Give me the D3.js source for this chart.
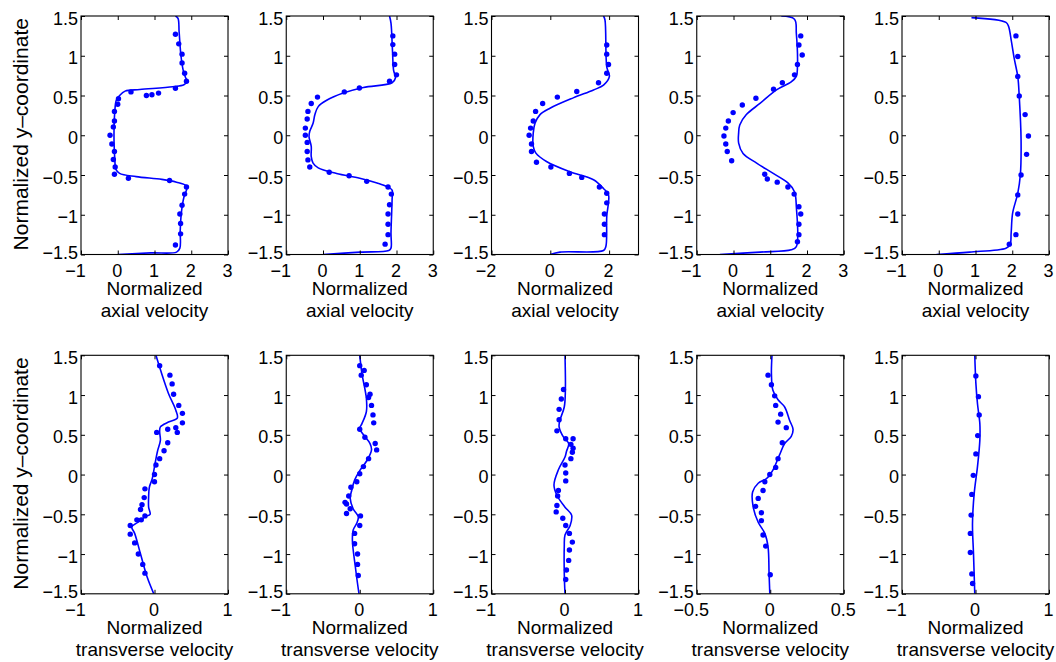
<!DOCTYPE html>
<html>
<head>
<meta charset="utf-8">
<script src="https://cdn.jsdelivr.net/npm/d3@7/dist/d3.min.js"></script>
<style>
  html, body { margin: 0; padding: 0; background: #fff; }
  svg { display: block; }
  text { font-family: "Liberation Sans", Arial, Helvetica, sans-serif; fill: #000; }
</style>
</head>
<body>
<svg id="chart" width="1056" height="662"></svg>
<script>
// Normalized y-coordinate ticks shared by all panels
const yTicks = [-1.5, -1, -0.5, 0, 0.5, 1, 1.5];

// x ranges and ticks for each column (top row: axial, bottom row: transverse)
const axialXDomains = [[-1, 3], [-1, 3], [-2, 3], [-1, 3], [-1, 3]];
const axialXTicks = [[-1, 0, 1, 2, 3], [-1, 0, 1, 2, 3], [-2, 0, 2], [-1, 0, 1, 2, 3], [-1, 0, 1, 2, 3]];
const transXDomains = [[-1, 1], [-1, 1], [-1, 1], [-0.5, 0.5], [-1, 1]];
const transXTicks = [[-1, 0, 1], [-1, 0, 1], [-1, 0, 1], [-0.5, 0, 0.5], [-1, 0, 1]];

const xLabelLines = {
  axial: ["Normalized", "axial velocity"],
  trans: ["Normalized", "transverse velocity"]
};
const yLabel = "Normalized y\u2013coordinate";

// ---- Axial velocity: simulation profiles [velocity, y] ----
const axialLine1 = [[1.57,1.5],[1.64,1.47],[1.67,1.3],[1.72,1.0],[1.78,0.82],[1.85,0.72],[1.9,0.68],[1.8,0.635],[1.5,0.61],[0.6,0.575],[0.2,0.555],[0.05,0.5],[-0.04,0.44],[-0.08,0.3],[-0.1,0.1],[-0.1,-0.1],[-0.08,-0.3],[-0.05,-0.43],[0.05,-0.48],[0.5,-0.52],[1.2,-0.555],[1.6,-0.59],[1.85,-0.63],[1.88,-0.67],[1.8,-0.78],[1.73,-0.98],[1.7,-1.2],[1.69,-1.42],[1.6,-1.47],[0.9,-1.48],[0.0,-1.5]];
const axialLine2 = [[1.81,1.5],[1.85,1.41],[1.89,1.07],[1.92,0.82],[1.97,0.72],[1.88,0.66],[1.10,0.60],[0.55,0.53],[0.1,0.44],[-0.13,0.36],[-0.22,0.26],[-0.27,0.15],[-0.36,0.05],[-0.38,-0.02],[-0.32,-0.14],[-0.32,-0.27],[-0.27,-0.35],[-0.13,-0.41],[0.37,-0.48],[1.0,-0.54],[1.47,-0.60],[1.74,-0.645],[1.88,-0.69],[1.88,-0.81],[1.85,-1.23],[1.85,-1.42],[1.79,-1.45],[1.01,-1.47],[0.0,-1.5]];
const axialLine3 = [[1.81,1.5],[1.86,1.45],[1.92,0.86],[2.01,0.74],[1.81,0.63],[1.47,0.57],[0.78,0.47],[-0.01,0.34],[-0.35,0.26],[-0.52,0.15],[-0.58,0.03],[-0.58,-0.14],[-0.49,-0.225],[-0.13,-0.33],[0.67,-0.46],[1.47,-0.56],[1.81,-0.67],[1.98,-0.75],[1.92,-1.02],[1.89,-1.40],[1.81,-1.45],[0.33,-1.47],[0.0,-1.5]];
const axialLine4 = [[1.30,1.5],[1.66,1.46],[1.71,1.28],[1.74,0.86],[1.71,0.74],[1.57,0.67],[1.17,0.57],[0.72,0.40],[0.35,0.26],[0.17,0.13],[0.14,0.03],[0.14,-0.10],[0.26,-0.23],[0.63,-0.35],[1.08,-0.48],[1.48,-0.60],[1.66,-0.71],[1.71,-0.90],[1.71,-1.40],[1.57,-1.44],[0.72,-1.47],[-0.37,-1.5]];
const axialLine5 = [[0.89,1.48],[1.83,1.42],[1.90,1.37],[1.97,1.2],[2.06,0.95],[2.15,0.74],[2.19,0.49],[2.24,-0.06],[2.22,-0.50],[2.15,-0.73],[2.01,-0.98],[1.97,-1.23],[1.94,-1.38],[1.83,-1.42],[0.84,-1.47],[-0.06,-1.5]];

// ---- Axial velocity: measured points [velocity, y] ----
const axialDots1 = [[1.57,1.27],[1.66,1.15],[1.75,1.02],[1.75,0.91],[1.82,0.78],[1.87,0.68],[1.57,0.59],[1.11,0.53],[0.93,0.51],[0.78,0.50],[0.36,0.545],[0.02,0.46],[0.0,0.39],[-0.09,0.30],[-0.09,0.18],[-0.12,0.105],[-0.21,0.0],[-0.16,-0.11],[-0.09,-0.205],[-0.12,-0.305],[-0.07,-0.40],[-0.09,-0.49],[0.29,-0.54],[1.41,-0.57],[1.87,-0.65],[1.82,-0.74],[1.75,-0.88],[1.69,-0.99],[1.71,-1.11],[1.71,-1.24],[1.57,-1.38]];
const axialDots2 = [[1.90,1.25],[1.90,1.14],[1.95,1.02],[1.95,0.89],[2.0,0.76],[1.81,0.68],[0.99,0.595],[0.58,0.545],[-0.15,0.48],[-0.32,0.40],[-0.41,0.30],[-0.43,0.205],[-0.48,0.09],[-0.48,0.0],[-0.43,-0.09],[-0.43,-0.205],[-0.41,-0.31],[-0.36,-0.40],[0.17,-0.465],[0.71,-0.51],[1.19,-0.58],[1.77,-0.65],[1.86,-0.74],[1.81,-0.875],[1.77,-0.99],[1.77,-1.12],[1.77,-1.25],[1.69,-1.37]];
const axialDots3 = [[1.92,1.135],[1.92,1.02],[1.98,0.89],[1.92,0.78],[1.64,0.66],[0.90,0.55],[0.24,0.48],[-0.26,0.40],[-0.50,0.30],[-0.58,0.18],[-0.67,0.09],[-0.72,0.0],[-0.64,-0.11],[-0.64,-0.205],[-0.47,-0.34],[0.02,-0.40],[0.65,-0.48],[1.07,-0.53],[1.67,-0.65],[1.92,-0.73],[1.92,-0.85],[1.84,-0.99],[1.84,-1.12],[1.84,-1.25]];
const axialDots4 = [[1.83,1.25],[1.78,1.135],[1.87,1.01],[1.74,0.89],[1.66,0.76],[1.33,0.66],[1.09,0.58],[0.61,0.465],[0.24,0.38],[-0.01,0.285],[-0.14,0.18],[-0.21,0.09],[-0.26,-0.01],[-0.21,-0.11],[-0.17,-0.205],[-0.05,-0.32],[0.85,-0.49],[0.92,-0.55],[1.19,-0.59],[1.48,-0.65],[1.65,-0.74],[1.78,-0.90],[1.83,-0.99],[1.78,-1.12],[1.78,-1.25],[1.74,-1.34]];
const axialDots5 = [[2.10,1.25],[2.15,0.99],[2.15,0.74],[2.19,0.495],[2.35,0.26],[2.44,-0.01],[2.39,-0.24],[2.24,-0.50],[2.15,-0.75],[2.15,-0.99],[2.10,-1.25],[1.92,-1.37]];

// ---- Transverse velocity: simulation profiles [velocity, y] ----
const transLine1 = [[0.02,1.5],[0.08,1.32],[0.19,1.02],[0.29,0.81],[0.31,0.71],[0.19,0.66],[0.08,0.60],[0.07,0.54],[0.08,0.43],[0.04,0.29],[0.0,0.10],[-0.03,-0.05],[-0.07,-0.16],[-0.08,-0.28],[-0.08,-0.41],[-0.06,-0.50],[-0.13,-0.53],[-0.19,-0.58],[-0.26,-0.62],[-0.31,-0.66],[-0.27,-0.74],[-0.19,-1.0],[-0.10,-1.29],[-0.01,-1.5]];
const transLine2 = [[0.0,1.5],[0.03,1.27],[0.09,0.96],[0.09,0.79],[0.03,0.64],[0.0,0.58],[0.05,0.50],[0.14,0.39],[0.16,0.31],[0.10,0.18],[0.0,0.05],[-0.07,-0.07],[-0.11,-0.20],[-0.13,-0.30],[-0.09,-0.43],[-0.02,-0.53],[-0.04,-0.61],[-0.09,-0.70],[-0.10,-0.83],[-0.06,-1.16],[-0.01,-1.5]];
const transLine3 = [[0.0,1.5],[0.005,1.06],[-0.01,0.85],[-0.07,0.68],[-0.08,0.60],[-0.02,0.47],[0.05,0.39],[0.02,0.29],[0.0,0.22],[-0.09,0.06],[-0.15,-0.13],[-0.11,-0.26],[0.0,-0.41],[0.09,-0.51],[0.07,-0.64],[0.0,-0.76],[-0.01,-0.91],[-0.01,-1.24],[0.0,-1.5]];
const transLine4 = [[0.012,1.5],[0.008,1.27],[0.018,1.06],[0.053,0.94],[0.098,0.85],[0.132,0.68],[0.155,0.57],[0.143,0.48],[0.098,0.39],[0.064,0.25],[0.019,0.06],[-0.025,-0.05],[-0.082,-0.11],[-0.12,-0.22],[-0.116,-0.41],[-0.082,-0.60],[-0.037,-0.74],[-0.015,-0.91],[-0.008,-1.25],[-0.003,-1.5]];
const transLine5 = [[-0.01,1.5],[0.005,1.15],[0.027,0.89],[0.059,0.64],[0.059,0.43],[0.027,0.10],[-0.018,-0.24],[-0.041,-0.62],[-0.027,-1.0],[-0.01,-1.5]];

// ---- Transverse velocity: measured points [velocity, y] ----
const transDots1 = [[0.07,1.37],[0.21,1.25],[0.24,1.14],[0.26,1.01],[0.33,0.87],[0.38,0.77],[0.38,0.65],[0.29,0.59],[0.31,0.53],[0.03,0.53],[0.18,0.57],[0.18,0.40],[0.13,0.30],[0.07,0.20],[0.02,0.12],[0.0,0.0],[0.0,-0.09],[-0.13,-0.18],[-0.14,-0.29],[-0.17,-0.38],[-0.19,-0.44],[-0.13,-0.52],[-0.24,-0.57],[-0.18,-0.57],[-0.33,-0.64],[-0.33,-0.75],[-0.27,-0.86],[-0.22,-1.00],[-0.16,-1.13],[-0.13,-1.24]];
const transDots2 = [[0.0,1.37],[0.02,1.25],[0.06,1.31],[0.09,1.13],[0.14,1.01],[0.12,0.97],[0.16,0.87],[0.18,0.75],[0.19,0.65],[0.21,0.39],[0.23,0.31],[0.0,0.57],[0.07,0.47],[0.12,0.20],[0.05,0.10],[0.0,0.01],[-0.04,-0.09],[-0.12,-0.16],[-0.15,-0.27],[-0.20,-0.35],[-0.18,-0.37],[-0.13,-0.43],[-0.18,-0.49],[0.01,-0.52],[0.0,-0.64],[-0.07,-0.74],[-0.07,-0.87],[-0.03,-1.0],[-0.03,-1.13],[-0.02,-1.27]];
const transDots3 = [[-0.02,1.07],[-0.05,0.95],[-0.08,0.82],[-0.08,0.69],[-0.11,0.55],[0.01,0.45],[0.11,0.45],[0.08,0.38],[0.11,0.33],[0.10,0.28],[0.08,0.20],[0.0,0.12],[0.01,0.02],[0.01,-0.08],[-0.09,-0.20],[-0.10,-0.27],[-0.11,-0.39],[-0.12,-0.47],[-0.03,-0.55],[0.01,-0.64],[0.06,-0.74],[0.10,-0.85],[0.06,-0.95],[0.05,-1.08],[0.02,-1.2],[0.01,-1.32]];
const transDots4 = [[-0.015,1.25],[0.008,1.13],[0.03,0.99],[0.037,0.87],[0.071,0.76],[0.053,0.66],[0.109,0.59],[0.082,0.40],[0.053,0.20],[0.037,0.09],[-0.003,0.0],[-0.037,-0.09],[-0.049,-0.20],[-0.082,-0.30],[-0.100,-0.40],[-0.060,-0.48],[-0.060,-0.58],[-0.049,-0.76],[-0.031,-0.90],[0.0,-1.26]];
const transDots5 = [[0.005,1.24],[0.04,0.98],[0.05,0.75],[0.03,0.49],[0.005,0.26],[-0.03,-0.01],[-0.05,-0.25],[-0.06,-0.51],[-0.07,-0.74],[-0.07,-0.98],[-0.05,-1.25],[-0.04,-1.37]];

const axialLines = [axialLine1, axialLine2, axialLine3, axialLine4, axialLine5];
const axialDots = [axialDots1, axialDots2, axialDots3, axialDots4, axialDots5];
const transLines = [transLine1, transLine2, transLine3, transLine4, transLine5];
const transDots = [transDots1, transDots2, transDots3, transDots4, transDots5];

// ---- Layout ----
const colLeft0 = 81, colStep = 205.25, panelW = 147;
const rowTop = [16, 355.3], panelH = 238.5;
const BLUE = "#0000ff";
const tickLen = 4;
const fmt = d3.format("~g");

const svg = d3.select("#chart");

function drawPanel(g, xDomain, xTicks, lineData, dotData, labelLines) {
  const x = d3.scaleLinear().domain(xDomain).range([0, panelW]);
  const y = d3.scaleLinear().domain([-1.5, 1.5]).range([panelH, 0]);

  const clipId = "clip" + Math.random().toString(36).slice(2);
  g.append("clipPath").attr("id", clipId)
    .append("rect").attr("width", panelW).attr("height", panelH);

  const plot = g.append("g").attr("clip-path", `url(#${clipId})`);

  const line = d3.line()
    .x(d => x(d[0])).y(d => y(d[1]))
    .curve(d3.curveCatmullRom.alpha(0.5));

  plot.append("path")
    .datum(lineData)
    .attr("d", line)
    .attr("fill", "none")
    .attr("stroke", BLUE)
    .attr("stroke-width", 1.6)
    .attr("stroke-linejoin", "round");

  plot.selectAll("circle")
    .data(dotData)
    .join("circle")
    .attr("cx", d => x(d[0]))
    .attr("cy", d => y(d[1]))
    .attr("r", 2.7)
    .attr("fill", BLUE);

  // bottom axis with inward ticks and labels
  const bottom = g.append("g").attr("transform", `translate(0,${panelH})`)
    .call(d3.axisBottom(x).tickValues(xTicks).tickSizeInner(-tickLen).tickSizeOuter(0).tickFormat(fmt));
  bottom.selectAll("text")
    .attr("y", 22).attr("dy", 0)
    .attr("dx", d => d < 0 ? -6 : -1)
    .style("font-size", "18px");

  // top axis: mirrored ticks only
  g.append("g")
    .call(d3.axisTop(x).tickValues(xTicks).tickSizeInner(-tickLen).tickSizeOuter(0).tickFormat(""));

  // left axis with inward ticks and labels; the lowest label sits a little higher
  const left = g.append("g")
    .call(d3.axisLeft(y).tickValues(yTicks).tickSizeInner(-tickLen).tickSizeOuter(0).tickFormat(fmt));
  left.selectAll("text")
    .attr("x", -3).attr("dy", d => d === -1.5 ? 4 : 8)
    .style("font-size", "18px");

  // right axis: mirrored ticks only
  g.append("g").attr("transform", `translate(${panelW},0)`)
    .call(d3.axisRight(y).tickValues(yTicks).tickSizeInner(-tickLen).tickSizeOuter(0).tickFormat(""));

  g.selectAll(".domain").remove();
  g.selectAll(".tick line").attr("stroke", "#000").attr("stroke-width", 1);

  // box
  g.append("rect")
    .attr("width", panelW).attr("height", panelH)
    .attr("fill", "none").attr("stroke", "#000").attr("stroke-width", 1.1);

  // x label (two lines)
  g.append("text")
    .attr("text-anchor", "middle")
    .style("font-size", "19px")
    .selectAll("tspan")
    .data(labelLines)
    .join("tspan")
    .attr("x", panelW / 2)
    .attr("y", (d, i) => panelH + 40 + i * 22)
    .text(d => d);
}

[0, 1].forEach(row => {
  for (let c = 0; c < 5; c++) {
    const g = svg.append("g")
      .attr("transform", `translate(${colLeft0 + c * colStep},${rowTop[row]})`);
    if (row === 0) {
      drawPanel(g, axialXDomains[c], axialXTicks[c], axialLines[c], axialDots[c], xLabelLines.axial);
    } else {
      drawPanel(g, transXDomains[c], transXTicks[c], transLines[c], transDots[c], xLabelLines.trans);
    }
  }
  svg.append("text")
    .attr("transform", `translate(28,${rowTop[row] + panelH / 2 - 1}) rotate(-90)`)
    .attr("text-anchor", "middle")
    .style("font-size", "21px")
    .text(yLabel);
});
</script>
</body>
</html>
